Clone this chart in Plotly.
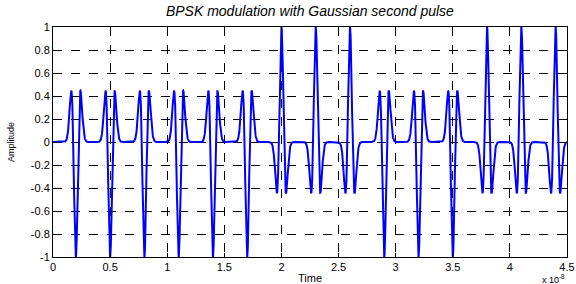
import numpy as np
import plotly.graph_objects as go

# Pulse centres (in units of 1e-8 s) and BPSK polarity
pulse_centers = [0.2, 0.5, 0.8, 1.1, 1.4, 1.7, 2.0, 2.3, 2.6, 2.9, 3.2, 3.5, 3.8, 4.1, 4.4]
pulse_polarity = [-1, -1, -1, -1, -1, -1, 1, 1, 1, -1, -1, -1, 1, 1, 1]
pulse_sigma = 0.023  # Gaussian width (1e-8 s)

x_tick_vals = [0, 0.5, 1, 1.5, 2, 2.5, 3, 3.5, 4, 4.5]
x_tick_text = ["0", "0.5", "1", "1.5", "2", "2.5", "3", "3.5", "4", "4.5"]
y_tick_vals = [-1, -0.8, -0.6, -0.4, -0.2, 0, 0.2, 0.4, 0.6, 0.8, 1]
y_tick_text = ["-1", "-0.8", "-0.6", "-0.4", "-0.2", "0", "0.2", "0.4", "0.6", "0.8", "1"]

# Gaussian second-derivative (Mexican-hat) pulse train
t = np.arange(0, 4.5 + 1e-9, 0.001)
y = np.zeros_like(t)
for c, p in zip(pulse_centers, pulse_polarity):
    u = (t - c) / pulse_sigma
    y += p * (1 - u ** 2) * np.exp(-u ** 2 / 2)

font = "Liberation Sans, Arial, sans-serif"
fig = go.Figure()
fig.add_trace(go.Scatter(x=t * 1e-8, y=y, mode="lines",
                         line=dict(color="#0000ff", width=2), showlegend=False))

axis_common = dict(showline=True, linecolor="black", linewidth=1, mirror="allticks",
                   ticks="inside", ticklen=4, tickcolor="black", automargin=False,
                   showgrid=True, gridcolor="black", gridwidth=1, griddash="dash",
                   zeroline=False, tickfont=dict(family=font, size=11, color="black"))

fig.update_layout(
    width=576, height=284,
    margin=dict(l=53, r=9, t=27, b=27),
    paper_bgcolor="white", plot_bgcolor="white",
    title=dict(text="<i>BPSK modulation with Gaussian second pulse</i>",
               x=0.538, xanchor="center", y=0.962, yanchor="middle",
               font=dict(family=font, size=14, color="black")),
    xaxis=dict(range=[0, 4.5e-8], tickvals=[v * 1e-8 for v in x_tick_vals],
               ticktext=x_tick_text,
               title=dict(text="Time", font=dict(family=font, size=11, color="black"),
                          standoff=2), **axis_common),
    yaxis=dict(range=[-1, 1], tickvals=y_tick_vals, ticktext=y_tick_text,
               title=dict(text="Amplitude", font=dict(family=font, size=9, color="black"),
                          standoff=14), **axis_common),
)
fig.add_annotation(text="x 10<sup>-8</sup>", xref="paper", yref="paper",
                   x=1.0, y=-0.062, xanchor="right", yanchor="top", showarrow=False,
                   font=dict(family=font, size=9, color="black"))

fig.write_html("out.html", config={"displayModeBar": False},
               post_script="document.body.style.margin='0';document.body.style.padding='0';")
